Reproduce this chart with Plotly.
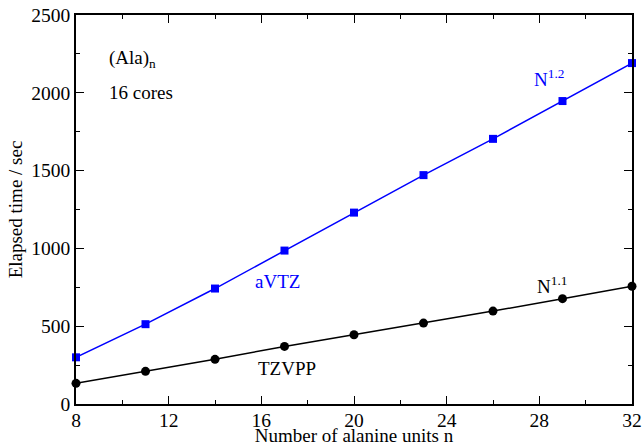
import plotly.graph_objects as go

n_units = [8, 11, 14, 17, 20, 23, 26, 29, 32]
avtz_time = [300, 513, 742, 986, 1230, 1471, 1704, 1947, 2191]
tzvpp_time = [133, 210, 287, 370, 445, 520, 597, 677, 757]

x_ticks = [8, 12, 16, 20, 24, 28, 32]
y_ticks = [0, 500, 1000, 1500, 2000, 2500]

FONT = "Times New Roman, Liberation Serif, serif"

fig = go.Figure()
fig.add_trace(go.Scatter(x=n_units, y=avtz_time, mode="lines+markers",
                         line=dict(color="#0000ff", width=1.5),
                         marker=dict(symbol="square", size=8, color="#0000ff"),
                         cliponaxis=False, showlegend=False))
fig.add_trace(go.Scatter(x=n_units, y=tzvpp_time, mode="lines+markers",
                         line=dict(color="black", width=1.5),
                         marker=dict(symbol="circle", size=9, color="black"),
                         cliponaxis=False, showlegend=False))

annos = [
    dict(x=9.35, y=2215, text="(Ala)<sub>n</sub>", color="black"),
    dict(x=9.35, y=2000, text="16 cores", color="black"),
    dict(x=27.7, y=2095, text="N<sup>1.2</sup>", color="#0000ff"),
    dict(x=15.65, y=790, text="aVTZ", color="#0000ff"),
    dict(x=15.75, y=230, text="TZVPP", color="black"),
    dict(x=27.8, y=765, text="N<sup>1.1</sup>", color="black"),
]
for a in annos:
    fig.add_annotation(x=a["x"], y=a["y"], text=a["text"], showarrow=False,
                       xanchor="left", yanchor="middle",
                       font=dict(family=FONT, size=19, color=a["color"]))

axis_common = dict(showline=True, linecolor="black", linewidth=1.5, mirror="ticks",
                   ticks="inside", ticklen=8, tickwidth=1.2, tickcolor="black",
                   showgrid=False, zeroline=False, automargin=False,
                   tickfont=dict(family=FONT, size=19.5, color="black"))

fig.update_xaxes(range=[8, 32], tickvals=x_ticks, ticklabelstandoff=-2,
                 minor=dict(dtick=2, ticks="inside", ticklen=4, tickcolor="black", tickwidth=1),
                 title=dict(text="Number of alanine units n", standoff=2,
                            font=dict(family=FONT, size=19, color="black")),
                 **axis_common)
fig.update_yaxes(range=[0, 2500], tickvals=y_ticks,
                 minor=dict(dtick=250, ticks="inside", ticklen=4, tickcolor="black", tickwidth=1),
                 title=dict(text="Elapsed time / sec", standoff=4,
                            font=dict(family=FONT, size=19, color="black")),
                 **axis_common)

fig.update_layout(width=643, height=446, margin=dict(l=76, r=11, t=15, b=42),
                  plot_bgcolor="white", paper_bgcolor="white",
                  font=dict(family=FONT, size=19, color="black"))

fig.write_html("out.html", config={"displayModeBar": False},
               post_script="document.body.style.margin='0px';")
